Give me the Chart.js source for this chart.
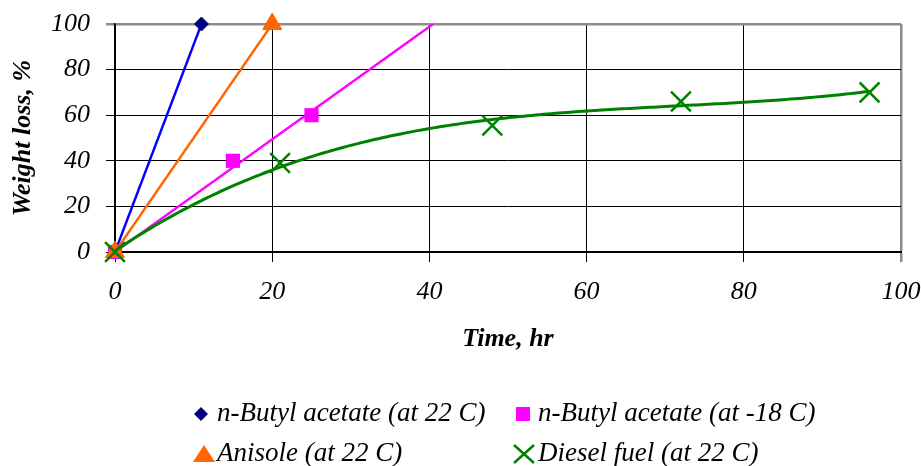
<!DOCTYPE html>
<html>
<head>
<meta charset="utf-8">
<script src="https://cdn.jsdelivr.net/npm/chart.js@4/dist/chart.umd.min.js"></script>
<style>
  html, body { margin: 0; padding: 0; background: #fff; }
  #wrap { width: 921px; height: 466px; position: relative; }
</style>
</head>
<body>
<div id="wrap"><canvas id="c" width="921" height="466"></canvas></div>
<script>
// Evaporation tests: weight loss (%) against time (hr)
const butylWarmHours = [0, 11];
const butylWarmLoss  = [0, 100];
const butylColdHours = [0, 15, 25];
const butylColdLoss  = [0, 40, 60];
const anisoleHours   = [0, 20];
const anisoleLoss    = [0, 100];
const dieselHours    = [0, 21, 48, 72, 96];
const dieselLoss     = [0, 39, 55.5, 66, 70];

const xTicks = [0, 20, 40, 60, 80, 100];
const yTicks = [0, 20, 40, 60, 80, 100];
const seriesNames = [
  'n-Butyl acetate (at 22 C)',
  'n-Butyl acetate (at -18 C)',
  'Anisole (at 22 C)',
  'Diesel fuel (at 22 C)'
];

const SERIF = '"Liberation Serif", "Times New Roman", serif';
const BLUE = '#0000FF', NAVY = '#000080', PINK = '#FF00FF', ORANGE = '#FF6600', GREEN = '#008000';

function pairs(xs, ys) { return xs.map((x, i) => ({ x: x, y: ys[i] })); }

// Least-squares line through the origin, drawn up to the top of the axis
function originTrend(xs, ys, yTop) {
  let sxy = 0, sxx = 0;
  xs.forEach((x, i) => { sxy += x * ys[i]; sxx += x * x; });
  const k = sxy / sxx;
  return [{ x: 0, y: 0 }, { x: yTop / k, y: yTop }];
}

// Least-squares polynomial (normal equations, Gaussian elimination)
function polyFit(xs, ys, deg) {
  const n = deg + 1;
  const A = Array.from({ length: n }, () => new Array(n + 1).fill(0));
  for (let r = 0; r < n; r++) {
    for (let c = 0; c < n; c++) A[r][c] = xs.reduce((s, x) => s + Math.pow(x, r + c), 0);
    A[r][n] = xs.reduce((s, x, i) => s + ys[i] * Math.pow(x, r), 0);
  }
  for (let p = 0; p < n; p++) {
    let best = p;
    for (let r = p + 1; r < n; r++) if (Math.abs(A[r][p]) > Math.abs(A[best][p])) best = r;
    [A[p], A[best]] = [A[best], A[p]];
    for (let r = 0; r < n; r++) {
      if (r === p) continue;
      const f = A[r][p] / A[p][p];
      for (let c = p; c <= n; c++) A[r][c] -= f * A[p][c];
    }
  }
  return A.map((row, i) => row[n] / row[i]);
}

function polyCurve(xs, ys, deg) {
  const coef = polyFit(xs, ys, deg);
  const lo = Math.min(...xs), hi = Math.max(...xs);
  const pts = [];
  for (let x = lo; x <= hi + 1e-9; x += 0.5) {
    pts.push({ x: x, y: coef.reduce((s, c, i) => s + c * Math.pow(x, i), 0) });
  }
  return pts;
}

// Legend laid out in two columns under the plot
const legendItems = [
  { text: seriesNames[0], shape: 'diamond',  color: NAVY,   mx: 201, tx: 217, y: 414 },
  { text: seriesNames[1], shape: 'square',   color: PINK,   mx: 523, tx: 538, y: 414 },
  { text: seriesNames[2], shape: 'triangle', color: ORANGE, mx: 204, tx: 217, y: 454 },
  { text: seriesNames[3], shape: 'cross',    color: GREEN,  mx: 524, tx: 538, y: 454 }
];

const legendPlugin = {
  id: 'twoColumnLegend',
  afterDraw(chart) {
    const ctx = chart.ctx;
    ctx.save();
    legendItems.forEach(it => {
      const x = it.mx, y = it.y;
      ctx.fillStyle = it.color;
      ctx.strokeStyle = it.color;
      ctx.beginPath();
      if (it.shape === 'diamond') {
        ctx.moveTo(x, y - 7); ctx.lineTo(x + 7, y); ctx.lineTo(x, y + 7); ctx.lineTo(x - 7, y); ctx.closePath(); ctx.fill();
      } else if (it.shape === 'square') {
        ctx.rect(x - 7, y - 7, 14, 14); ctx.fill();
      } else if (it.shape === 'triangle') {
        ctx.moveTo(x, y - 9); ctx.lineTo(x + 11, y + 8); ctx.lineTo(x - 11, y + 8); ctx.closePath(); ctx.fill();
      } else {
        ctx.lineWidth = 2.5;
        ctx.moveTo(x - 10, y - 9); ctx.lineTo(x + 10, y + 9);
        ctx.moveTo(x + 10, y - 9); ctx.lineTo(x - 10, y + 9);
        ctx.stroke();
      }
      ctx.fillStyle = '#000';
      ctx.font = 'italic 27px ' + SERIF;
      ctx.textAlign = 'left';
      ctx.textBaseline = 'middle';
      ctx.fillText(it.text, it.tx, y);
    });
    ctx.restore();
  }
};

const edgeColor = v => (v === 100 ? '#8c8c8c' : '#000');
const edgeWidth = v => (v === 100 ? 2.5 : 1);

new Chart(document.getElementById('c'), {
  type: 'scatter',
  data: {
    datasets: [
      {
        label: seriesNames[3] + ' trend', data: polyCurve(dieselHours, dieselLoss, 3),
        showLine: true, borderColor: GREEN, borderWidth: 3, pointRadius: 0, tension: 0, order: 1
      },
      {
        label: seriesNames[3], data: pairs(dieselHours, dieselLoss),
        showLine: false, pointStyle: 'crossRot', pointRadius: 14, pointBorderWidth: 2.5,
        borderColor: GREEN, backgroundColor: GREEN, order: 0, clip: false
      },
      {
        label: seriesNames[2], data: pairs(anisoleHours, anisoleLoss),
        showLine: true, borderColor: ORANGE, borderWidth: 2.4, tension: 0,
        pointStyle: 'triangle', pointRadius: 11, pointBackgroundColor: ORANGE, pointBorderColor: ORANGE,
        pointBorderWidth: 1, order: 2, clip: false
      },
      {
        label: seriesNames[1] + ' trend', data: originTrend(butylColdHours, butylColdLoss, 100),
        showLine: true, borderColor: PINK, borderWidth: 2.4, pointRadius: 0, tension: 0, order: 4
      },
      {
        label: seriesNames[1], data: pairs(butylColdHours, butylColdLoss),
        showLine: false, pointStyle: 'rect', pointRadius: 10, pointBorderWidth: 0,
        backgroundColor: PINK, borderColor: PINK, order: 3, clip: false
      },
      {
        label: seriesNames[0], data: pairs(butylWarmHours, butylWarmLoss),
        showLine: true, borderColor: BLUE, borderWidth: 2.4, tension: 0,
        pointStyle: 'rectRot', pointRadius: 7, pointBackgroundColor: NAVY, pointBorderColor: NAVY,
        pointBorderWidth: 1, order: 5, clip: false
      }
    ]
  },
  options: {
    responsive: false,
    animation: false,
    devicePixelRatio: 1,
    layout: { padding: { top: 24, right: 20, left: 0, bottom: 0 } },
    plugins: { legend: { display: false }, tooltip: { enabled: false } },
    elements: { point: { hoverRadius: 0 } },
    scales: {
      x: {
        type: 'linear', min: 0, max: 100,
        afterBuildTicks: s => { s.ticks = xTicks.map(v => ({ value: v })); },
        afterFit: s => { s.height = 214; s.paddingLeft = 0; s.paddingRight = 0; },
        grid: {
          color: c => edgeColor(c.tick && c.tick.value), lineWidth: c => edgeWidth(c.tick && c.tick.value),
          tickLength: 10, drawTicks: true
        },
        border: { color: '#000', width: 2 },
        ticks: { color: '#000', padding: 15, font: { family: SERIF, size: 26, style: 'italic' } },
        title: {
          display: true, text: 'Time, hr', color: '#000',
          font: { family: SERIF, size: 26, style: 'italic', weight: 'bold' },
          padding: { top: 0, bottom: 111 }
        }
      },
      y: {
        type: 'linear', min: 0, max: 100,
        afterBuildTicks: s => { s.ticks = yTicks.map(v => ({ value: v })); },
        afterFit: s => { s.width = 115; s.paddingTop = 0; s.paddingBottom = 0; },
        grid: {
          color: c => edgeColor(c.tick && c.tick.value), lineWidth: c => edgeWidth(c.tick && c.tick.value),
          tickLength: 9, drawTicks: true
        },
        border: { color: '#000', width: 1.5 },
        ticks: { color: '#000', padding: 16, font: { family: SERIF, size: 26, style: 'italic' } },
        title: {
          display: true, text: 'Weight loss, %', color: '#000',
          font: { family: SERIF, size: 26, style: 'italic', weight: 'bold' },
          padding: { top: 8, bottom: 0 }
        }
      }
    }
  },
  plugins: [legendPlugin]
});
</script>
</body>
</html>
